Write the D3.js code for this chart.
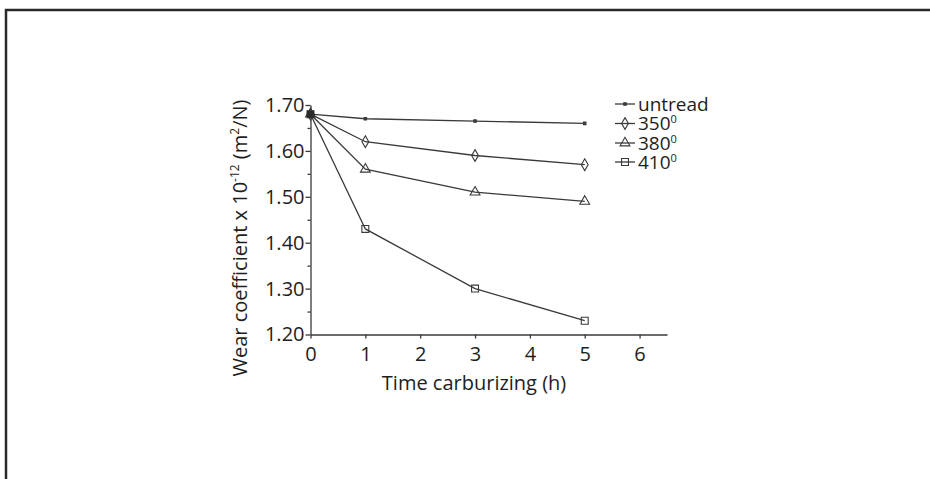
<!DOCTYPE html>
<html>
<head>
<meta charset="utf-8">
<script src="https://cdn.jsdelivr.net/npm/d3@7"></script>
<style>
  body { margin: 0; background: #fff; }
  svg text { font-family: "Open Sans", sans-serif; fill: #1e1e1e; }
</style>
</head>
<body>
<script>
// time carburizing (h)
const hours = [0, 1, 3, 5];
const xTicks = [0, 1, 2, 3, 4, 5, 6];
const yTicks = [1.2, 1.3, 1.4, 1.5, 1.6, 1.7];
const yMinor = [1.25, 1.35, 1.45, 1.55, 1.65];

// wear coefficient x 10^-12 (m2/N)
const untread = [1.68, 1.67, 1.665, 1.66];
const t350 = [1.68, 1.62, 1.59, 1.57];
const t380 = [1.68, 1.56, 1.51, 1.49];
const t410 = [1.68, 1.43, 1.30, 1.23];

const seriesNames = ["untread", "350", "380", "410"];
const seriesValues = [untread, t350, t380, t410];

const w = 930, h = 479;
const ink = "#3a3a3a";

const svg = d3.select("body").append("svg")
  .attr("width", w)
  .attr("height", h);

// frame around the figure (only top and left edges show)
svg.append("path")
  .attr("d", "M6," + h + " L6,10 L" + w + ",10")
  .attr("fill", "none")
  .attr("stroke", "#2a2a2a")
  .attr("stroke-width", 2.5);

const xScale = d3.scaleLinear().domain([0, 6.5]).range([310.5, 667]);
const yScale = d3.scaleLinear().domain([1.2, 1.7]).range([334.5, 105]);

const xAxis = d3.axisBottom(xScale).tickValues(xTicks).tickSize(4).tickSizeOuter(0).tickPadding(8)
  .tickFormat(d3.format("d"));
const yAxis = d3.axisLeft(yScale).tickValues(yTicks).tickSize(5).tickSizeOuter(0).tickPadding(1)
  .tickFormat(d3.format(".2f"));
const yAxisMinor = d3.axisLeft(yScale).tickValues(yMinor).tickSize(3).tickSizeOuter(0).tickFormat("");

const gx = svg.append("g")
  .attr("transform", "translate(0," + yScale(1.2) + ")")
  .call(xAxis);
const gy = svg.append("g")
  .attr("transform", "translate(" + xScale(0) + ",0)")
  .call(yAxis);
const gyMinor = svg.append("g")
  .attr("transform", "translate(" + xScale(0) + ",0)")
  .call(yAxisMinor);

[gx, gy, gyMinor].forEach(g => {
  g.selectAll("path, line").attr("stroke", ink).attr("stroke-width", 1.3);
  g.selectAll("text").style("font-size", "20px").attr("fill", "#1e1e1e");
});
gyMinor.select(".domain").remove();

// axis titles
svg.append("text")
  .attr("x", xScale(3.0) - 1)
  .attr("y", 390)
  .attr("text-anchor", "middle")
  .style("font-size", "20px")
  .text("Time carburizing (h)");

const yLabel = svg.append("text")
  .attr("transform", "translate(247,238) rotate(-90)")
  .attr("text-anchor", "middle")
  .style("font-size", "20px");
yLabel.append("tspan").text("Wear coefficient x 10");
yLabel.append("tspan").attr("dy", -8).style("font-size", "12px").text("-12");
yLabel.append("tspan").attr("dy", 8).text(" (m");
yLabel.append("tspan").attr("dy", -8).style("font-size", "12px").text("2");
yLabel.append("tspan").attr("dy", 8).text("/N)");

// markers
const symbols = [
  d3.symbol().type(d3.symbolSquare).size(6),
  d3.symbol().type(d3.symbolDiamond).size(40),
  d3.symbol().type(d3.symbolTriangle).size(42),
  d3.symbol().type(d3.symbolSquare).size(48)
];

const line = d3.line()
  .x((d, i) => xScale(hours[i]))
  .y(d => yScale(d));

seriesValues.forEach((vals, s) => {
  svg.append("path")
    .datum(vals)
    .attr("d", line)
    .attr("fill", "none")
    .attr("stroke", ink)
    .attr("stroke-width", 1.3);

  svg.selectAll(".m" + s)
    .data(vals)
    .enter()
    .append("path")
      .attr("class", "m" + s)
      .attr("d", symbols[s])
      .attr("transform", (d, i) => "translate(" + xScale(hours[i]) + "," + yScale(d) + ")")
      .attr("fill", s === 0 ? ink : "none")
      .attr("stroke", ink)
      .attr("stroke-width", 1.1);
});

// dark marker where all series start
svg.append("path")
  .attr("d", d3.symbol().type(d3.symbolSquare).size(48))
  .attr("transform", "translate(" + xScale(hours[0]) + "," + yScale(untread[0]) + ")")
  .attr("fill", "#2a2a2a");

// legend
const legendY = [104, 123.5, 143, 162];
seriesNames.forEach((name, s) => {
  const g = svg.append("g").attr("transform", "translate(0," + legendY[s] + ")");
  g.append("line")
    .attr("x1", 615).attr("x2", 635)
    .attr("stroke", ink).attr("stroke-width", 1.3);
  g.append("path")
    .attr("d", symbols[s])
    .attr("transform", "translate(625,0)")
    .attr("fill", s === 0 ? ink : "none")
    .attr("stroke", ink)
    .attr("stroke-width", 1.1);
  const t = g.append("text")
    .attr("x", 638)
    .attr("y", 6.5)
    .style("font-size", "19px");
  t.append("tspan").text(name);
  if (s > 0) {
    t.append("tspan").attr("dy", -7).style("font-size", "11px").text("0");
  }
});
</script>
</body>
</html>
